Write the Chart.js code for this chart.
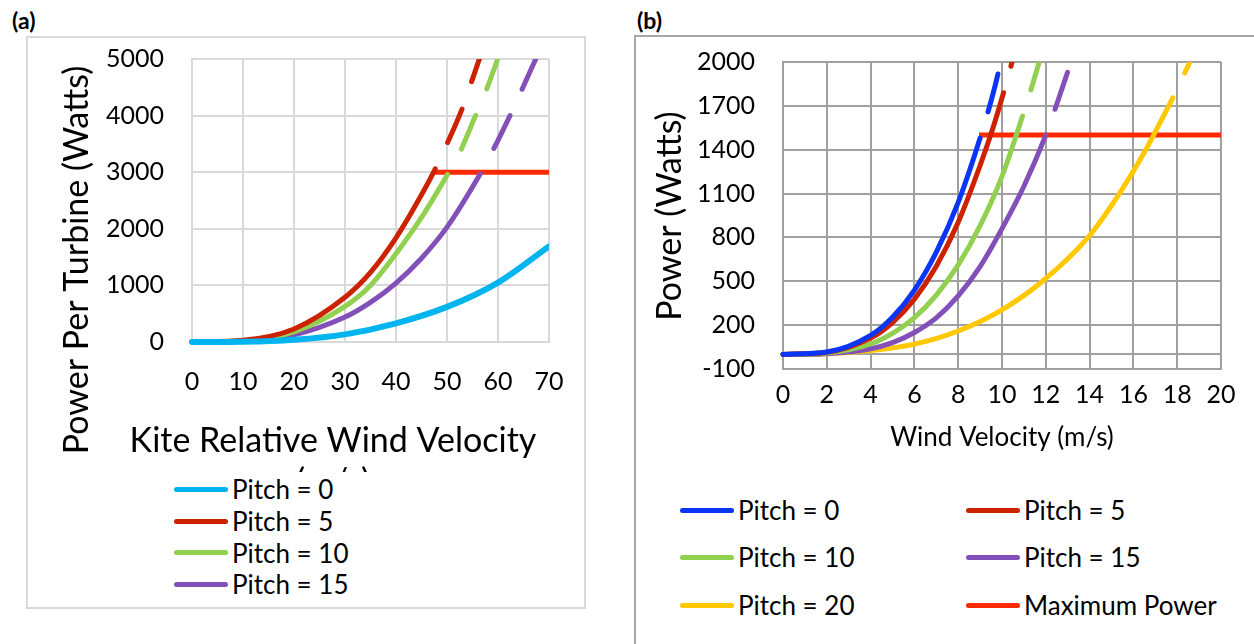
<!DOCTYPE html>
<html>
<head>
<meta charset="utf-8">
<script src="https://cdn.jsdelivr.net/npm/chart.js@4.4.1/dist/chart.umd.min.js"></script>
<style>
  html, body { margin: 0; padding: 0; background: #fff; }
  body { width: 1254px; height: 644px; position: relative; overflow: hidden; font-family: Lato, "Noto Sans", sans-serif; color: #000; }
  .tag { position: absolute; font-weight: bold; font-size: 23px; line-height: 1; }
  #boxA { position: absolute; left: 26px; top: 36px; width: 556px; height: 569px; border: 2px solid #d9d9d9; }
  #boxB { position: absolute; left: 634px; top: 35px; width: 640px; height: 640px; border: 2px solid #a6a6a6; }
  canvas { position: absolute; }
  #chartA { left: 28px; top: 37px; }
  #chartB { left: 636px; top: 37px; }
  .key { position: absolute; display: flex; align-items: center; height: 32px; font-size: 26px; white-space: nowrap; }
  .key .swatch { width: 54px; height: 5px; border-radius: 3px; margin-right: 4px; }
</style>
</head>
<body>
<div class="tag" style="left:12px; top:9px;">(a)</div>
<div class="tag" style="left:637px; top:9px;">(b)</div>
<div id="boxA"></div>
<div id="boxB"></div>
<canvas id="chartA" width="554" height="435"></canvas>
<canvas id="chartB" width="618" height="430"></canvas>
<div id="legendA"></div>
<div id="legendB"></div>
<script>
// ---- (a) power per turbine vs kite relative wind velocity ----
const xTicksA = [0, 10, 20, 30, 40, 50, 60, 70];
const yTicksA = [0, 1000, 2000, 3000, 4000, 5000];

const pitch0A_x = [0, 10, 20, 30, 40, 50, 60, 70];
const pitch0A_y = [0, 5, 40, 135, 330, 620, 1050, 1690];

const pitch5A_x = [0, 10, 20, 30, 35, 40, 45, 47.7, 50, 53.1, 54.6, 56.5];
const pitch5A_y = [0, 30, 230, 790, 1230, 1840, 2600, 3060, 3500, 4150, 4540, 5040];

const pitch10A_x = [0, 10, 20, 30, 35, 40, 45, 50.1, 52.4, 55.6, 57.5, 60.1];
const pitch10A_y = [0, 22, 180, 630, 1000, 1560, 2200, 2960, 3330, 4000, 4400, 5040];

const pitch15A_x = [0, 10, 20, 30, 35, 40, 45, 50, 56.5, 58.8, 62.4, 64.4, 67.5];
const pitch15A_y = [0, 15, 125, 440, 700, 1040, 1480, 2030, 2970, 3350, 4010, 4400, 5020];

const maxA_x = [47.7, 70];
const maxA_y = [3000, 3000];

// ---- (b) power vs wind velocity ----
const xTicksB = [0, 2, 4, 6, 8, 10, 12, 14, 16, 18, 20];
const yTicksB = [-100, 200, 500, 800, 1100, 1400, 1700, 2000];

const pitch0B_x = [0, 2, 4, 5, 6, 7, 8, 9, 9.69, 9.95];
const pitch0B_y = [0, 16, 130, 254, 440, 700, 1040, 1480, 1840, 2010];

const pitch5B_x = [0, 2, 4, 5, 6, 7, 8, 9, 9.59, 10.07, 10.35, 10.55];
const pitch5B_y = [0, 14, 111, 218, 378, 603, 904, 1292, 1550, 1790, 1940, 2050];

const pitch10B_x = [0, 2, 4, 5, 6, 7, 8, 9, 10, 10.94, 11.26, 11.72];
const pitch10B_y = [0, 10, 72, 144, 252, 406, 612, 880, 1217, 1630, 1780, 2010];

const pitch15B_x = [0, 2, 4, 5, 6, 7, 8, 9, 10, 11, 12, 12.36, 13.04];
const pitch15B_y = [0, 5, 38, 80, 150, 250, 400, 600, 860, 1150, 1500, 1650, 1950];

const pitch20B_x = [0, 2, 4, 6, 8, 10, 11.85, 13.93, 15.36, 16.57, 16.92, 17.8, 18.3, 18.7];
const pitch20B_y = [0, 5, 26, 70, 160, 305, 500, 800, 1100, 1400, 1500, 1755, 1910, 2040];

const maxB_x = [8.95, 20];
const maxB_y = [1500, 1500];

const FONT = 'Lato, "Noto Sans", sans-serif';

function points(xs, ys) {
  return xs.map((x, i) => ({ x: x, y: ys[i] }));
}

// solid up to index solidEnd, dashed (starting on a gap) after it
function curve(label, color, xs, ys, solidEnd, width, dash) {
  return {
    label: label,
    data: points(xs, ys),
    borderColor: color,
    backgroundColor: color,
    borderWidth: width,
    pointRadius: 0,
    pointHoverRadius: 0,
    cubicInterpolationMode: 'monotone',
    borderCapStyle: 'round',
    borderJoinStyle: 'round',
    clip: { left: 8, top: 0, right: 0, bottom: 8 },
    segment: {
      borderDash: ctx => ctx.p0DataIndex >= solidEnd ? dash : undefined,
      borderDashOffset: ctx => ctx.p0DataIndex >= solidEnd ? dash[0] : undefined
    }
  };
}

function flat(label, color, xs, ys, width, inLegend) {
  return {
    label: label,
    data: points(xs, ys),
    borderColor: color,
    backgroundColor: color,
    borderWidth: width,
    pointRadius: 0,
    pointHoverRadius: 0,
    borderCapStyle: 'butt',
    clip: 0,
    inLegend: inLegend
  };
}

// free-standing axis titles, drawn on the canvas
const axisTitles = {
  id: 'axisTitles',
  afterDraw(chart, args, opts) {
    const ctx = chart.ctx;
    ctx.save();
    ctx.fillStyle = '#000';
    ctx.textAlign = 'center';
    ctx.textBaseline = 'middle';
    opts.items.forEach(t => {
      ctx.save();
      ctx.font = t.size + 'px ' + FONT;
      ctx.translate(t.x, t.y);
      if (t.rotate) ctx.rotate(t.rotate);
      t.lines.forEach((line, i) => ctx.fillText(line, 0, i * t.lineHeight));
      ctx.restore();
    });
    ctx.restore();
  }
};

// fixed axis box; the label overhang padding is dropped so layout.padding alone sets the plot edges
function axis(ticks, min, max, gridColor, gridWidth, pad, size) {
  return {
    type: 'linear',
    min: min,
    max: max,
    afterBuildTicks: s => { s.ticks = ticks.map(v => ({ value: v })); },
    afterFit: s => {
      if (s.isHorizontal()) s.height = size; else s.width = size;
      s.paddingTop = s.paddingBottom = s.paddingLeft = s.paddingRight = 0;
    },
    grid: { color: gridColor, lineWidth: gridWidth, drawTicks: false },
    border: { color: gridColor, width: gridWidth },
    ticks: {
      padding: pad,
      color: '#000',
      font: { family: FONT, size: 25 },
      autoSkip: false,
      maxRotation: 0,
      callback: v => v === 0 && min < 0 ? '' : v
    }
  };
}

function htmlLegend(chart, el, cols, rows) {
  let n = 0;
  chart.data.datasets.forEach(ds => {
    if (ds.inLegend === false) return;
    const item = document.createElement('div');
    item.className = 'key';
    item.style.left = cols[n % cols.length] + 'px';
    item.style.top = (rows[Math.floor(n / cols.length)] - 16) + 'px';
    const sw = document.createElement('span');
    sw.className = 'swatch';
    sw.style.background = ds.borderColor;
    const tx = document.createElement('span');
    tx.textContent = ds.label;
    item.appendChild(sw);
    item.appendChild(tx);
    el.appendChild(item);
    n++;
  });
}

const dashA = [36.5, 29];
const dashB = [39, 27.5];

const chartA = new Chart(document.getElementById('chartA'), {
  type: 'line',
  data: {
    datasets: [
      curve('Pitch = 0', '#00b4f0', pitch0A_x, pitch0A_y, 99, 6, dashA),
      curve('Pitch = 5', '#cc2200', pitch5A_x, pitch5A_y, 7, 5, dashA),
      curve('Pitch = 10', '#92d050', pitch10A_x, pitch10A_y, 7, 5, dashA),
      curve('Pitch = 15', '#8250b8', pitch15A_x, pitch15A_y, 8, 5, dashA),
      flat('Maximum Power', '#ff2a00', maxA_x, maxA_y, 5, false)
    ]
  },
  options: {
    responsive: false,
    animation: false,
    events: [],
    layout: { padding: { left: 0, top: 22, right: 33, bottom: 0 } },
    plugins: {
      legend: { display: false },
      tooltip: { enabled: false },
      axisTitles: {
        items: [
          { lines: ['Power Per Turbine (Watts)'], x: 49, y: 223, size: 34, lineHeight: 0, rotate: -Math.PI / 2 },
          { lines: ['Kite Relative Wind Velocity', '(m/s)'], x: 305, y: 404, size: 34, lineHeight: 41 }
        ]
      }
    },
    scales: {
      x: axis(xTicksA, 0, 70, '#d9d9d9', 2, 25, 130),
      y: axis(yTicksA, 0, 5000, '#d9d9d9', 2, 28, 164)
    }
  },
  plugins: [axisTitles]
});

const chartB = new Chart(document.getElementById('chartB'), {
  type: 'line',
  data: {
    datasets: [
      curve('Pitch = 0', '#0a35f5', pitch0B_x, pitch0B_y, 7, 5, dashB),
      curve('Pitch = 5', '#cc2200', pitch5B_x, pitch5B_y, 9, 5, dashB),
      curve('Pitch = 10', '#92d050', pitch10B_x, pitch10B_y, 9, 5, dashB),
      curve('Pitch = 15', '#8250b8', pitch15B_x, pitch15B_y, 10, 5, dashB),
      curve('Pitch = 20', '#ffc800', pitch20B_x, pitch20B_y, 11, 5, dashB),
      flat('Maximum Power', '#ff2a00', maxB_x, maxB_y, 5, true)
    ]
  },
  options: {
    responsive: false,
    animation: false,
    events: [],
    layout: { padding: { left: 0, top: 25, right: 33, bottom: 0 } },
    plugins: {
      legend: { display: false },
      tooltip: { enabled: false },
      axisTitles: {
        items: [
          { lines: ['Power (Watts)'], x: 34, y: 179, size: 34, lineHeight: 0, rotate: -Math.PI / 2 },
          { lines: ['Wind Velocity (m/s)'], x: 366, y: 401, size: 26, lineHeight: 0 }
        ]
      }
    },
    scales: {
      x: axis(xTicksB, 0, 20, '#a0a0a0', 2, 11, 98),
      y: axis(yTicksB.concat([0]), -100, 2000, '#a0a0a0', 2, 28, 147)
    }
  },
  plugins: [axisTitles]
});

htmlLegend(chartA, document.getElementById('legendA'), [174], [489, 521, 552.5, 584]);
htmlLegend(chartB, document.getElementById('legendB'), [680, 966], [510, 557, 605]);
</script>
</body>
</html>
